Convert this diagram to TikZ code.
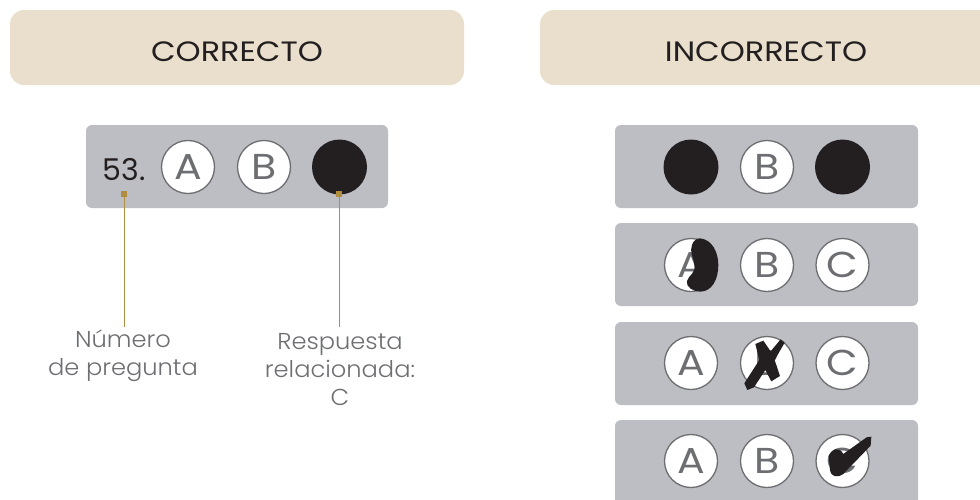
\documentclass[tikz,border=0pt]{standalone}
\usepackage{fontspec}
\setmainfont[FakeStretch=1.05]{Poppins Light}
\newfontfamily\regfont{Poppins}
\newfontfamily\hdrfont[FakeStretch=1.14]{Poppins}
\newfontfamily\bubfont[FakeStretch=1.14]{Poppins}
\definecolor{hdr}{HTML}{E9DFCC}
\definecolor{bar}{HTML}{BDBEC3}
\definecolor{ink}{HTML}{231F20}
\definecolor{gr}{HTML}{6D6E71}
\definecolor{gold}{HTML}{B08D3E}
\tikzset{
 hdrbox/.style={fill=hdr,rounded corners=14pt},
 barbox/.style={fill=bar,rounded corners=6pt},
 bub/.style={circle,draw=gr,line width=1.3pt,fill=white,minimum size=53pt,inner sep=0pt,text=gr,font=\bubfont\fontsize{36}{36}\selectfont},
 full/.style={circle,fill=ink,minimum size=55pt,inner sep=0pt},
 hdrtext/.style={text=ink,font=\hdrfont\fontsize{28}{28}\selectfont},
 lab/.style={text=gr,align=center,font=\fontsize{23}{28}\selectfont},
 pin/.style={fill=gold,minimum size=6pt,inner sep=0pt},
 lead/.style={draw=gold,line width=0.8pt}
}
\begin{document}
\begin{tikzpicture}[x=1pt,y=-1pt]
\useasboundingbox (0,0) rectangle (980,499);
\clip (0,0) rectangle (980,499);
\fill[hdrbox] (10,10) rectangle (464,85);
\fill[hdrbox] (540,10) rectangle (1000,85);
\node[hdrtext] (h1) at (237,52) {CORRECTO};
\node[hdrtext] (h2) at (766,52) {INCORRECTO};
\fill[barbox] (86,125) rectangle (388,208);
\fill[barbox] (615,125) rectangle (918,208);
\fill[barbox] (615,223) rectangle (918,306);
\fill[barbox] (615,322) rectangle (918,405);
\fill[barbox] (615,420) rectangle (918,520);
% left
\node[text=ink,font=\regfont\fontsize{30}{30}\selectfont] (n53) at (124,170) {53.};
\node[bub] (la) at (188,167) {A};
\node[bub] (lb) at (264,167) {B};
\node[full] (lc) at (339.5,167) {};
\node[pin] (p1) at (124,194) {};
\node[pin] (p2) at (339,194) {};
\node[lab] (t1) at (123,356) {Número\\de pregunta};
\node[lab] (t2) at (340,370) {Respuesta\\relacionada:\\C};
\coordinate (e1) at (124,327);
\coordinate (e2) at (339,327);
\draw[lead] (p1) -- (e1);
\draw[lead] (p2) -- (e2);
% right row 1
\node[full] (r1a) at (691,167) {};
\node[bub] (r1b) at (767,167) {B};
\node[full] (r1c) at (842.5,167) {};
% row 2
\node[bub] (r2a) at (691,265) {A};
\node[bub] (r2b) at (767,265) {B};
\node[bub] (r2c) at (842.5,265) {C};
% row 3
\node[bub] (r3a) at (691,363) {A};
\node[bub] (r3b) at (767,363) {B};
\node[bub] (r3c) at (842.5,363) {C};
% row 4
\node[bub] (r4a) at (691,461) {A};
\node[bub] (r4b) at (767,461) {B};
\node[bub] (r4c) at (842.5,461) {C};
% marks (coordinates in 3x crop units)
\begin{scope}[shift={(610,220)},x=0.3333pt,y=-0.3333pt]
\fill[ink] (270,55) .. controls (305,58) and (325,95) .. (325,135)
  .. controls (325,180) and (305,215) .. (270,215)
  .. controls (250,215) and (226,200) .. (231,183)
  .. controls (236,165) and (258,160) .. (253,135)
  .. controls (250,110) and (238,95) .. (246,75)
  .. controls (250,62) and (260,55) .. (270,55) -- cycle;
\fill[ink] (436,372) -- (460,362) -- (482,394) -- (512,358) -- (524,368)
  -- (494,420) -- (510,468) -- (484,484) -- (466,450) -- (432,502)
  -- (412,510) -- (403,490) -- (448,420) -- cycle;
\fill[ink] (656,708) .. controls (668,684) and (688,680) .. (700,702)
  -- (770,652) -- (784,650) -- (782,677) -- (700,762)
  .. controls (682,774) and (664,772) .. (660,750) -- cycle;
\end{scope}
\end{tikzpicture}
\end{document}
